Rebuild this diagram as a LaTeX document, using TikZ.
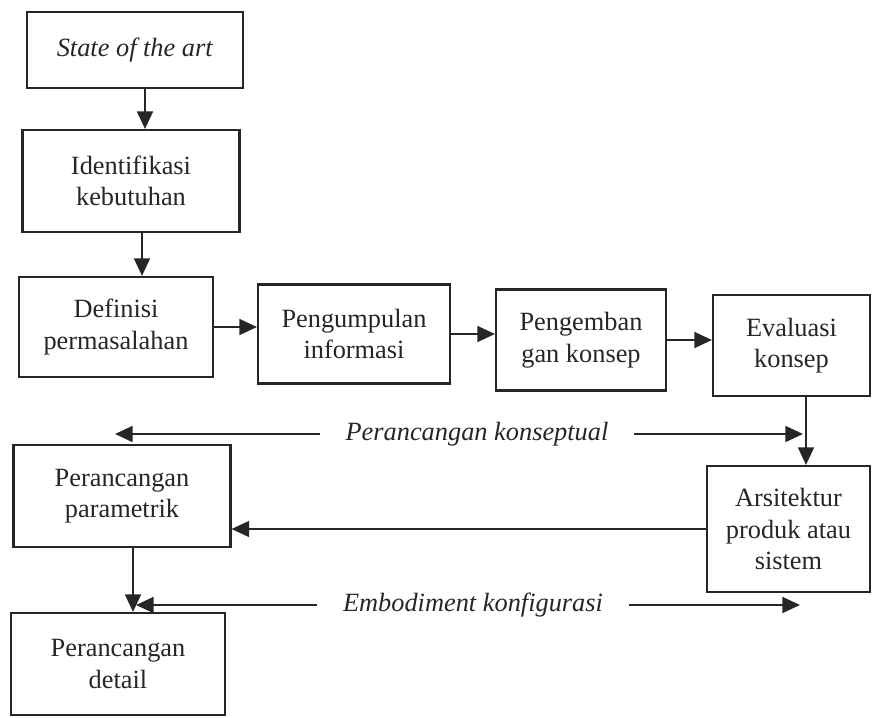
\documentclass[tikz,border=0pt]{standalone}
\usepackage{fontspec}
\setmainfont{Liberation Serif}
\usetikzlibrary{arrows.meta}
\tikzset{every picture/.style={line width=1.2pt}}

\begin{document}
\begin{tikzpicture}[x=0.02cm, y=-0.02cm, >={Triangle[length=10pt,width=9pt]},
        font=\fontsize{15}{18}\selectfont, align=center, color=black!85,
        blok/.style 2 args={draw, inner sep=0pt, minimum width=#1cm, minimum height=#2cm},
        tahap/.style={font=\fontsize{15}{18}\selectfont\itshape, inner xsep=0.5cm}]
        \useasboundingbox (0,0) rectangle (872,717);

        \node[blok={4.32}{1.52}] (state) at (135,50) {\textit{State of the art}};
        \node[blok={4.34}{2.04}] (identifikasi) at (131,181) {Identifikasi\\kebutuhan};
        \node[blok={3.88}{2.00}] (definisi) at (116,327) {Definisi\\permasalahan};
        \node[blok={3.84}{1.98}] (pengumpulan) at (354,334) {Pengumpulan\\informasi};
        \node[blok={3.40}{2.02}] (pengembangan) at (581,340) {Pengemban\\gan konsep};
        \node[blok={3.14}{2.02}] (evaluasi) at (791.5,345.5) {Evaluasi\\konsep};
        \node[blok={4.34}{2.04}] (parametrik) at (122,496) {Perancangan\\parametrik};
        \node[blok={3.26}{2.52}] (arsitektur) at (788.5,529) {Arsitektur\\produk atau\\sistem};
        \node[blok={4.28}{2.04}] (detail) at (118,664) {Perancangan\\detail};

        \node[tahap] (konseptual) at (477,434) {Perancangan konseptual};
        \node[tahap] (embodiment) at (473,605) {Embodiment konfigurasi};
        \coordinate (konseptualkiri) at (115,434);
        \coordinate (konseptualkanan) at (803,434);
        \coordinate (embodimentkiri) at (136,605);
        \coordinate (embodimentkanan) at (800,605);

        \path[->]
            ([xshift=0.2cm]state.south) edge ([xshift=0.2cm]state.south |- identifikasi.north)
            ([xshift=0.22cm]identifikasi.south) edge ([xshift=0.22cm]identifikasi.south |- definisi.north)
            (definisi.east) edge (definisi.east -| pengumpulan.west)
            (pengumpulan.east) edge (pengumpulan.east -| pengembangan.west)
            (pengembangan.east) edge (pengembangan.east -| evaluasi.west)
            ([xshift=0.29cm]evaluasi.south) edge ([xshift=0.29cm]evaluasi.south |- arsitektur.north)
            (arsitektur.west) edge (arsitektur.west -| parametrik.east)
            ([xshift=0.22cm]parametrik.south) edge ([xshift=0.22cm]parametrik.south |- detail.north)
            (konseptual.west) edge (konseptualkiri)
            (konseptual.east) edge (konseptualkanan)
            (embodiment.west) edge (embodimentkiri)
            (embodiment.east) edge (embodimentkanan)
            ;
\end{tikzpicture}
\end{document}
